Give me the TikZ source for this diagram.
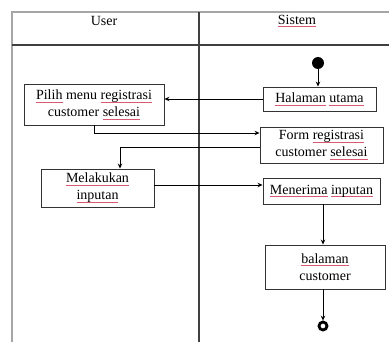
\documentclass[tikz,border=0pt]{standalone}
\usepackage{fontspec}
\setmainfont{Liberation Serif}
\usetikzlibrary{arrows.meta,calc}
\definecolor{splcol}{rgb}{0.85,0.35,0.45}
\newsavebox\splbox
\newcommand\spl[1]{\sbox\splbox{#1}\rlap{\textcolor{splcol}{\rule[-2.4pt]{\wd\splbox}{0.5pt}}}\usebox\splbox}
\begin{document}
\begin{tikzpicture}[x=1pt,y=-1pt,
  txt/.style={font=\fontsize{14}{17}\selectfont, align=center, inner sep=0pt},
  box/.style={txt, draw=black!80, line width=0.9pt, fill=white},
  flow/.style={-{Stealth[length=5pt,width=4.5pt]}, line width=0.8pt},
  framelight/.style={line width=1.3pt, draw=black!35},
  framedark/.style={line width=1.3pt, draw=black!75},
  startnode/.style={circle, fill=black, inner sep=0pt, minimum size=12pt},
  endnode/.style={circle, draw=black, line width=2.8pt, inner sep=0pt, minimum size=8pt}]
\useasboundingbox (0,0) rectangle (389,342);
\draw[framelight] (12,342) -- (12,12) -- (389,12);
\draw[framedark] (12,45) -- (389,45);
\draw[framedark] (199,12) -- (199,342);
\node[txt] (user) at (104,21) {User};
\node[txt] (sistem) at (297,21) {\spl{Sistem}};
\node[startnode] (start) at (318,63) {};
\node[box, minimum width=113, minimum height=24] (halaman) at (319.5,99) {\spl{Halaman} \spl{utama}};
\node[box, minimum width=140, minimum height=41] (pilih) at (94,104.5) {\spl{Pilih} menu \spl{registrasi}\\customer \spl{selesai}};
\node[box, minimum width=123, minimum height=36] (form) at (321.5,145) {Form \spl{registrasi}\\customer \spl{selesai}};
\node[box, minimum width=113, minimum height=38] (melakukan) at (97.5,188) {\spl{Melakukan}\\\spl{inputan}};
\node[box, minimum width=117, minimum height=26] (menerima) at (321.5,191) {\spl{Menerima} \spl{inputan}};
\node[box, minimum width=120, minimum height=44] (balaman) at (325,267) {\spl{balaman}\\customer};
\node[endnode] (end) at (323,326) {};
\draw[flow] (start) -- (start |- halaman.north);
\draw[flow] (halaman.west) -- (pilih.east |- halaman.west);
\draw[flow] (pilih.south) |- ($(form.west)+(0,-12)$);
\draw[flow] ($(form.west)+(0,2)$) -| ($(melakukan.north)+(22.5,0)$);
\coordinate (m1) at ($(melakukan.east)+(0,-3)$);
\draw[flow] (m1) -- (menerima.west |- m1);
\coordinate (m2) at ($(menerima.south)+(1.5,0)$);
\draw[flow] (m2) -- (balaman.north -| m2);
\draw[flow] (balaman.south -| end) -- (end.north);
\end{tikzpicture}
\end{document}
